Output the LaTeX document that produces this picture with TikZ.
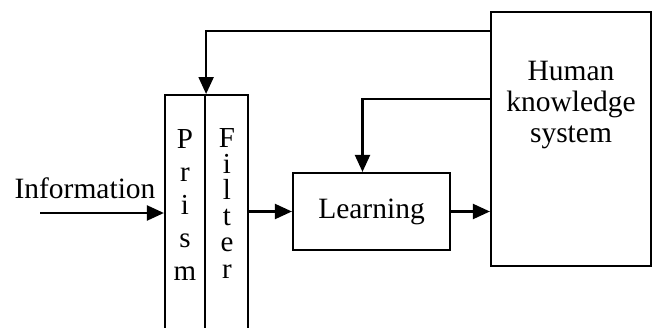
\documentclass[tikz,border=0pt]{standalone}
\usepackage{fontspec}
\setmainfont{Liberation Serif}
\usetikzlibrary{arrows.meta}
\tikzset{
  box/.style={draw, line width=2.2pt, inner sep=0pt},
  conn/.style={line width=2.2pt, -{Triangle[length=17pt,width=15pt]}},
  txt/.style={font=\fontsize{29.5}{31}\selectfont, align=center, inner sep=0pt},
}
\begin{document}
\begin{tikzpicture}[x=1pt,y=-1pt]
\useasboundingbox (0,0) rectangle (653,327);
\clip (0,0) rectangle (653,327);
% prism and filter columns (open at bottom)
\node[box, minimum width=40pt, minimum height=260pt, anchor=north] (prism) at (185,94) {};
\node[box, minimum width=43pt, minimum height=260pt, anchor=north] (filter) at (226.5,94) {};
\node[txt, anchor=base, font=\fontsize{29}{33}\selectfont] (prismtxt) at (185,280) {P\\r\\i\\s\\m};
\node[txt, anchor=base, font=\fontsize{29}{26.2}\selectfont] (filtertxt) at (227,278) {F\\i\\l\\t\\e\\r};
% learning
\node[box, minimum width=157pt, minimum height=77pt, txt] (learning) at (371.5,211.5) {Learning};
% human knowledge system
\node[box, minimum width=160pt, minimum height=254pt] (human) at (571,139) {};
\node[txt, anchor=base] (humantxt) at (571,142) {Human\\knowledge\\system};
% information
\node[txt, anchor=base] (info) at (85,198) {Information};
\coordinate (infostart) at (40,213);
% connectors
\draw[conn] (infostart) -- (prism.west |- infostart);
\draw[conn] (filter.east |- learning.west) -- (learning.west);
\draw[conn] (learning.east) -- (human.west |- learning.east);
\draw[conn] (human.west |- 0,31) -| (prism.north east);
\draw[conn] (human.west |- 0,99) -| ([xshift=-9pt]learning.north);
\end{tikzpicture}
\end{document}
